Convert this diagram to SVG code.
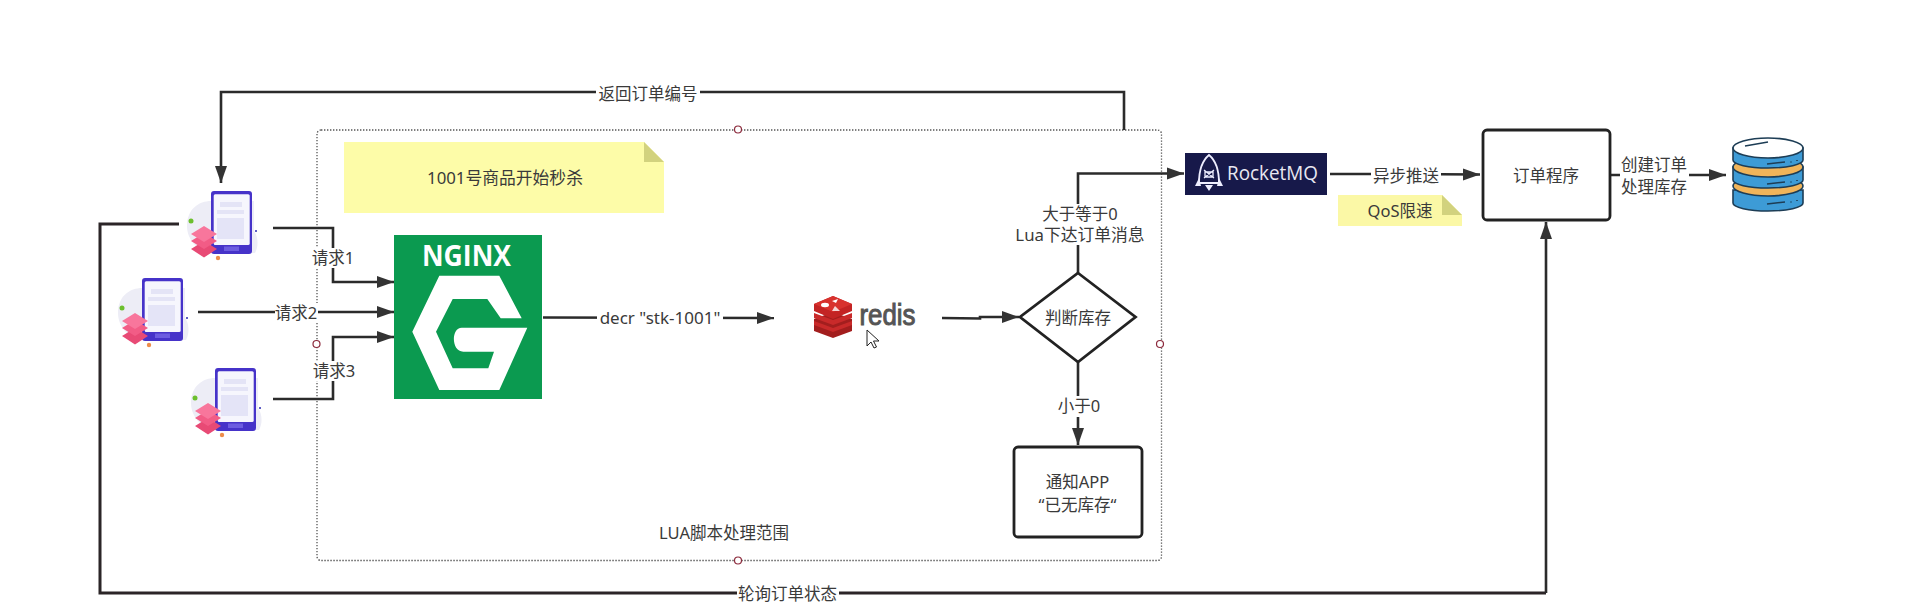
<svg xmlns="http://www.w3.org/2000/svg" xmlns:xlink="http://www.w3.org/1999/xlink" width="1909" height="607" viewBox="0 0 1909 607">
<style>
text{font-family:"Noto Sans","Noto Sans CJK SC",sans-serif;font-size:16.5px;fill:#3a3a3a;text-anchor:middle;dominant-baseline:central}
.ln{fill:none;stroke:#2b2b2b;stroke-width:2.6;marker-end:url(#ah)}
.pl{fill:none;stroke:#2b2527;stroke-width:3}
.bg{fill:#fff}
.box{fill:#fff;stroke:#222;stroke-width:2.8}
.hd{fill:#fff;stroke:#8c2a3c;stroke-width:1.2}
.note{fill:#fdfca8}
.fold{fill:#d2d27e}
.bl{fill:#3d9bd6;stroke:#1d3d55;stroke-width:1.6}
.or{fill:#f0b45a;stroke:#1d3d55;stroke-width:1.6}
.dl{fill:none;stroke:#1d3d55;stroke-width:1.6}
</style>
<defs>
<marker id="ah" markerUnits="userSpaceOnUse" markerWidth="18" markerHeight="13" refX="17" refY="6.5" orient="auto"><path d="M0 0.5L17 6.5L0 12.5Z" fill="#333"/></marker>
<g id="phone">
<path d="M0 10C-12 10-24 18-24 35C-24 48-14 60 0 62L44 62C48 55 47 45 43 40L43 10Z" fill="#ededf6"/>
<rect width="41" height="63" rx="3" fill="#4633c9"/>
<rect x="2.7" y="3.3" width="36" height="50.7" rx="1.5" fill="#f6f6fd"/>
<rect x="9" y="11" width="22" height="5" fill="#e4e4f6"/>
<rect x="6" y="19" width="27" height="4" fill="#e4e4f6"/>
<rect x="6" y="27" width="27" height="21" fill="#e4e4f7"/>
<rect x="13" y="55.5" width="15" height="4.5" fill="#6c5ce0"/>
<path d="M-7 50L6 58L-7 66.5L-20 58Z" fill="#e84a75"/>
<path d="M-7 42L6 50L-7 58L-20 50Z" fill="#f25c86"/>
<path d="M-7 35L6 43L-7 51L-20 43Z" fill="#f8769c"/>
<circle cx="-20" cy="30" r="2.5" fill="#6cbf2e"/>
<circle cx="7" cy="67" r="2.2" fill="#ee8d4a"/>
<circle cx="45" cy="40" r="1" fill="#2a2ab0"/>
</g>
</defs>
<rect width="1909" height="607" fill="#fff"/>

<g id="lua-scope">
<rect x="317" y="130" width="844.500" height="430.500" rx="4" fill="none" stroke="#555" stroke-width="1.3" stroke-dasharray="1.4 1.6"/>
<circle class="hd" cx="738" cy="129.500" r="3.500"/>
<circle class="hd" cx="738" cy="560.500" r="3.500"/>
<circle class="hd" cx="316.500" cy="344" r="3.500"/>
<circle class="hd" cx="1160" cy="344" r="3.500"/>
<text x="724" y="532">LUA脚本处理范围</text>
</g>

<g id="note-start">
<path class="note" d="M344 142H644L664 162V213H344Z"/>
<path class="fold" d="M644 142L664 162H644Z"/>
<text x="505" y="177" style="font-size:16.800px">1001号商品开始秒杀</text>
</g>

<g id="connectors">
<path class="ln" d="M1124 130V92H221V183"/>
<path class="pl" d="M179 224H100V593H1546"/>
<path class="ln" d="M1546 593V222"/>
<path class="ln" d="M273 228H333V282H394"/>
<path class="ln" d="M198 312H394"/>
<path class="ln" d="M273 399H333V337H394"/>
<path class="ln" d="M543 317.500L774 318"/>
<path class="ln" d="M942 318L980 318.500V317H1019"/>
<path class="ln" d="M1078 273V173.500H1184"/>
<path class="ln" d="M1078 362V445"/>
<path class="ln" d="M1330 174H1400L1480 174.500"/>
<path class="ln" d="M1610 175H1726"/>
<rect class="bg" x="596" y="84" width="104" height="18"/>
<text x="648" y="93">返回订单编号</text>
<rect class="bg" x="737" y="584" width="102" height="18"/>
<text x="787.500" y="593">轮询订单状态</text>
<rect class="bg" x="313" y="248" width="41" height="20"/>
<text x="333" y="257">请求1</text>
<rect class="bg" x="275" y="303" width="43" height="20"/>
<text x="296" y="312">请求2</text>
<rect class="bg" x="313" y="361" width="42" height="20"/>
<text x="334" y="370">请求3</text>
<rect class="bg" x="597" y="308" width="126" height="20"/>
<text x="660" y="317.500" style="font-size:17px">decr "stk-1001"</text>
<rect class="bg" x="1014" y="204" width="132" height="41"/>
<text x="1080" y="213">大于等于0</text>
<text x="1080" y="234" style="font-size:16.800px">Lua下达订单消息</text>
<rect class="bg" x="1058" y="396" width="42" height="21"/>
<text x="1079" y="405">小于0</text>
<rect class="bg" x="1371" y="165" width="70" height="20"/>
<text x="1406" y="175">异步推送</text>
<rect class="bg" x="1620" y="155" width="69" height="42"/>
<text x="1654" y="164">创建订单</text>
<text x="1654" y="186">处理库存</text>
</g>

<use id="app-1" href="#phone" x="211" y="191"/>
<use id="app-2" href="#phone" x="142" y="278"/>
<use id="app-3" href="#phone" x="215" y="368"/>

<g id="nginx">
<rect x="394" y="235" width="148" height="164" fill="#0b9a50"/>
<text x="466.500" y="254" style="font-family:'Open Sans',sans-serif;font-size:29px;font-weight:700;fill:#fff" textLength="89" lengthAdjust="spacingAndGlyphs">NGINX</text>
<path fill="#fff" d="M439.300 275.700H499.300L521.700 318.300H500.700L487.300 299H452.700L436 331.700L452.700 368.300H488.300L494 351.700H463.300C451 351.700 451 327.700 461.700 327.700H527.300L499.300 390H439.300L412.300 331.700Z"/>
</g>

<g id="redis">
<path d="M833 312L852 319V331L833 338L814 331V319Z" fill="#a31e1e"/>
<path d="M814 321L833 328L852 321V325L833 332L814 325Z" fill="#c92a2a"/>
<path d="M814 313L833 320L852 313V318L833 325L814 318Z" fill="#c92a2a"/>
<path d="M833 296L852 304V311L833 319L814 311V304Z" fill="#c32424"/>
<path d="M833 296L852 304L833 312L814 304Z" fill="#d8322e"/>
<ellipse cx="825" cy="305" rx="4" ry="2.200" fill="#fff"/>
<path d="M832 311L840 311L835 306Z" fill="#f5d5d5"/>
<path d="M832 301L838 299L836 303Z" fill="#fff"/>
<text x="887.500" y="315" style="font-family:'Liberation Sans',sans-serif;font-size:29px;fill:#555;stroke:#555;stroke-width:1" textLength="56" lengthAdjust="spacingAndGlyphs">redis</text>
<path d="M867 330V346L871 342L874 348L876.500 347L873.500 341L879 341Z" fill="#fff" stroke="#222" stroke-width="1"/>
</g>

<g id="check-stock">
<path class="box" d="M1078 273L1135.500 317L1078 362L1020 317Z"/>
<text x="1078" y="317">判断库存</text>
</g>

<g id="notify-app">
<rect class="box" x="1014" y="447" width="128" height="90" rx="4"/>
<text x="1077.500" y="481">通知APP</text>
<text x="1077.500" y="504">“已无库存“</text>
</g>

<g id="rocketmq">
<rect x="1185" y="153" width="142" height="42" fill="#17194a"/>
<path d="M1209 155C1203 160 1199 170 1199 183H1219C1219 170 1215 160 1209 155Z" fill="none" stroke="#eef" stroke-width="1.800"/>
<path d="M1204 170L1214 178M1214 170L1204 178M1205 172H1213V177H1205Z" fill="none" stroke="#eef" stroke-width="1.300"/>
<path d="M1199 178L1195 186H1201ZM1219 178L1223 186H1217ZM1205 185H1213L1209 191Z" fill="#eef"/>
<text x="1272.500" y="172" style="font-family:'Open Sans',sans-serif;font-size:20px;fill:#e8e8f2" textLength="91" lengthAdjust="spacingAndGlyphs">RocketMQ</text>
</g>

<g id="note-qos">
<path class="note" d="M1338 195H1442L1462 215V226H1338Z" style="fill:#fbf8a6"/>
<path class="fold" d="M1442 195L1462 215H1442Z"/>
<text x="1400" y="210.500">QoS限速</text>
</g>

<g id="order-service">
<rect class="box" x="1483" y="130" width="127" height="90" rx="4"/>
<text x="1546" y="175.500">订单程序</text>
</g>

<g id="database">
<path class="bl" d="M1733 190V203A35 8 0 0 0 1803 203V190Z"/>
<ellipse class="or" cx="1768" cy="186" rx="35" ry="10"/>
<path class="bl" d="M1733 167V180A35 8 0 0 0 1803 180V167Z"/>
<ellipse class="or" cx="1768" cy="167" rx="35" ry="10"/>
<path class="bl" d="M1733 148V160A35 8 0 0 0 1803 160V148Z"/>
<ellipse cx="1768" cy="148" rx="35" ry="10" fill="#fff" stroke="#1d3d55" stroke-width="1.600"/>
<path class="dl" d="M1745 146L1768 142M1767 164L1785 162M1791 161.500V162.500M1797 160V161M1767 184L1785 182M1791 181.500V182.500M1797 180V181M1767 204L1785 202M1791 201.500V202.500M1797 200V201"/>
</g>
</svg>
